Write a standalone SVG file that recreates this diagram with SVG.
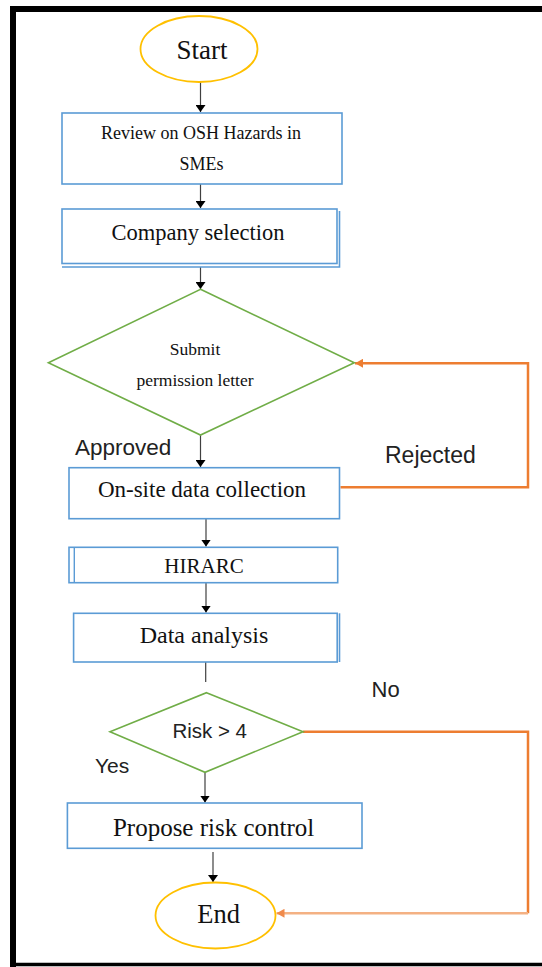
<svg xmlns="http://www.w3.org/2000/svg" width="542" height="967" viewBox="0 0 542 967">
<style>
.box{fill:#fff;stroke:#5B9BD5;stroke-width:1.6}
.dia{fill:#fff;stroke:#70AD47;stroke-width:1.6}
.term{fill:#fff;stroke:#FFC000;stroke-width:1.8}
.serif{font-family:"Liberation Serif","Times New Roman",serif;fill:#111;text-anchor:middle}
.sans{font-family:"Liberation Sans",Arial,sans-serif;fill:#222}
.flow{fill:none;stroke:#404040;stroke-width:1.2}
.orange{fill:none;stroke:#ED7D31;stroke-width:2.5}
.orangel{fill:none;stroke:#F4B183;stroke-width:2.5}
</style>
<defs>
<marker id="ah" markerUnits="userSpaceOnUse" markerWidth="8" markerHeight="10" refX="7" refY="5" orient="auto">
<path d="M0,0 L7,5 L0,10 z" fill="#000"/>
</marker>
<marker id="aho" markerUnits="userSpaceOnUse" markerWidth="9" markerHeight="9" refX="8" refY="4.5" orient="auto">
<path d="M0,0 L8,4.5 L0,9 z" fill="#ED7D31"/>
</marker>
<marker id="ahl" markerUnits="userSpaceOnUse" markerWidth="9" markerHeight="9" refX="8" refY="4.5" orient="auto">
<path d="M0,0 L8,4.5 L0,9 z" fill="#F08A4B"/>
</marker>
</defs>
<rect width="542" height="967" fill="#fff"/>
<g id="frame">
<path d="M13,967 V9 H545" fill="none" stroke="#000" stroke-width="6"/>
<line x1="13" y1="964.5" x2="542" y2="964.5" stroke="#000" stroke-width="3.5"/>
</g>
<g id="connectors">
<path class="flow" d="M200.5,82 V112" marker-end="url(#ah)"/>
<path class="flow" d="M200.5,184 V208" marker-end="url(#ah)"/>
<path class="flow" d="M200.5,267 V289" marker-end="url(#ah)"/>
<path class="flow" d="M200.5,435 V467" marker-end="url(#ah)"/>
<path class="flow" d="M206,519 V546.5" marker-end="url(#ah)"/>
<path class="flow" d="M206,583 V612.5" marker-end="url(#ah)"/>
<path class="flow" d="M205.7,662 V682" stroke="#888"/>
<path class="flow" d="M205,772.5 V802.5" marker-end="url(#ah)"/>
<path class="flow" d="M213,852 V882" marker-end="url(#ah)"/>
<path class="orange" d="M340.5,487.3 H528 V363.3 H355" marker-end="url(#aho)"/>
<path class="orange" d="M303,731.7 H528 V913.3"/>
<path class="orangel" d="M528,913.3 H276.5" marker-end="url(#ahl)"/>
</g>
<g id="start">
<ellipse class="term" cx="199" cy="49" rx="58.5" ry="33"/>
<text class="serif" x="202" y="59" font-size="27">Start</text>
</g>
<g id="review">
<rect class="box" x="62" y="113" width="280" height="71"/>
<text class="serif" x="201" y="139" font-size="18">Review on OSH Hazards in</text>
<text class="serif" x="201.5" y="170" font-size="18">SMEs</text>
</g>
<g id="company">
<rect class="box" x="62" y="209" width="275" height="54.5"/>
<path d="M62,267 H339.5 V211" fill="none" stroke="#5B9BD5" stroke-width="1.6"/>
<text class="serif" x="198" y="240" font-size="22.5">Company selection</text>
</g>
<g id="permission">
<polygon class="dia" points="200.5,289.3 354.3,362.7 200.5,435 48.4,362.7"/>
<text class="serif" x="195" y="355" font-size="17.5">Submit</text>
<text class="serif" x="195" y="386" font-size="17.5">permission letter</text>
</g>
<text class="sans" x="75" y="455" font-size="22.5">Approved</text>
<text class="sans" x="385" y="462.5" font-size="23">Rejected</text>
<g id="onsite">
<rect class="box" x="69" y="467.7" width="270.5" height="51"/>
<text class="serif" x="202" y="497" font-size="23">On-site data collection</text>
</g>
<g id="hirarc">
<rect class="box" x="69" y="547.3" width="268.7" height="35.4"/>
<line x1="74.3" y1="547.3" x2="74.3" y2="582.7" stroke="#5B9BD5" stroke-width="1.4"/>
<text class="serif" x="204" y="572.7" font-size="21">HIRARC</text>
</g>
<g id="analysis">
<rect class="box" x="73.6" y="613.3" width="263.6" height="48.7"/>
<line x1="339.5" y1="613.3" x2="339.5" y2="662" stroke="#5B9BD5" stroke-width="1.6"/>
<text class="serif" x="204" y="643.3" font-size="24">Data analysis</text>
</g>
<text class="sans" x="371.6" y="696.7" font-size="22">No</text>
<g id="risk">
<polygon class="dia" points="206.5,692.7 303,731.7 205,772.3 110,731.7"/>
<text class="sans" x="209.7" y="738.3" font-size="20.5" text-anchor="middle">Risk &gt; 4</text>
</g>
<text class="sans" x="95" y="773.3" font-size="21">Yes</text>
<g id="propose">
<rect class="box" x="67.4" y="803" width="294.6" height="45.3"/>
<text class="serif" x="213.6" y="835.7" font-size="25">Propose risk control</text>
</g>
<g id="end">
<ellipse class="term" cx="215.5" cy="915.5" rx="60" ry="33"/>
<text class="serif" x="218.7" y="923.3" font-size="26.5">End</text>
</g>
</svg>
